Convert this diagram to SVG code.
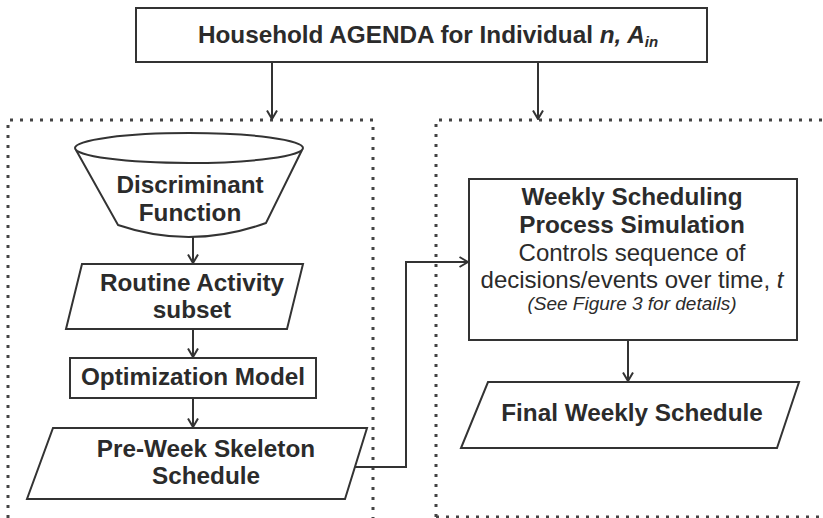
<svg xmlns="http://www.w3.org/2000/svg" width="823" height="518" viewBox="0 0 823 518">
<style>
.shape{fill:#fff;stroke:#333;stroke-width:2}
.dot{fill:none;stroke:#444;stroke-width:3;stroke-dasharray:3 7}
.conn{fill:none;stroke:#333;stroke-width:2}
text{font-family:"Liberation Sans",Arial,Helvetica,sans-serif;fill:#2b2b2b;text-anchor:middle}
.b{font-weight:bold;font-size:24.3px}
.r{font-size:24px}
.i{font-style:italic;font-size:19px}
</style>
<defs>
<marker id="arr" viewBox="0 0 10 12" refX="9.5" refY="6" markerWidth="10" markerHeight="12" markerUnits="userSpaceOnUse" orient="auto">
<path d="M1,1 L9.5,6 L1,11" fill="none" stroke="#333" stroke-width="2"/>
</marker>
</defs>
<rect width="823" height="518" fill="#fff"/>
<g id="containers">
<path class="dot" d="M8,518 V120 H373 V518"/>
<path class="dot" d="M436,517 V120 H823 M436,517 H823"/>
</g>
<g id="agenda">
<rect class="shape" x="136" y="8" width="571" height="54"/>
<text class="b" x="428" y="43">Household AGENDA for Individual <tspan font-style="italic">n, A</tspan><tspan font-style="italic" font-size="15px" dy="4">in</tspan></text>
</g>
<g id="discriminant">
<path class="shape" d="M76,150 L118,225 Q191,250 266,223 L302,150"/>
<ellipse class="shape" cx="189" cy="148" rx="114" ry="15"/>
<text class="b" x="190" y="193">Discriminant</text>
<text class="b" x="190" y="221">Function</text>
</g>
<g id="routine">
<polygon class="shape" points="82,264 303,264 287,329 66,329"/>
<text class="b" x="192" y="291">Routine Activity</text>
<text class="b" x="192" y="318">subset</text>
</g>
<g id="optimization">
<rect class="shape" x="70" y="358" width="246" height="40"/>
<text class="b" x="193" y="385">Optimization Model</text>
</g>
<g id="preweek">
<polygon class="shape" points="53,428 367,428 345,499 27,499"/>
<text class="b" x="206" y="457">Pre-Week Skeleton</text>
<text class="b" x="206" y="484">Schedule</text>
</g>
<g id="weekly">
<rect class="shape" x="469" y="179" width="328" height="161"/>
<text class="b" x="632" y="205">Weekly Scheduling</text>
<text class="b" x="632" y="233">Process Simulation</text>
<text class="r" x="632" y="261">Controls sequence of</text>
<text class="r" x="632" y="288">decisions/events over time, <tspan font-style="italic">t</tspan></text>
<text class="i" x="632" y="310">(See Figure 3 for details)</text>
</g>
<g id="final">
<polygon class="shape" points="488,382 799,382 777,448 461,448"/>
<text class="b" x="632" y="421">Final Weekly Schedule</text>
</g>
<g id="connectors">
<line class="conn" x1="272" y1="62" x2="272" y2="119" marker-end="url(#arr)"/>
<line class="conn" x1="538" y1="62" x2="538" y2="119" marker-end="url(#arr)"/>
<line class="conn" x1="193" y1="237" x2="193" y2="263" marker-end="url(#arr)"/>
<line class="conn" x1="193" y1="329" x2="193" y2="357" marker-end="url(#arr)"/>
<line class="conn" x1="193" y1="398" x2="193" y2="427" marker-end="url(#arr)"/>
<path class="conn" d="M355,467 H406 V262 H468" marker-end="url(#arr)"/>
<line class="conn" x1="628" y1="340" x2="628" y2="381" marker-end="url(#arr)"/>
</g>
</svg>
